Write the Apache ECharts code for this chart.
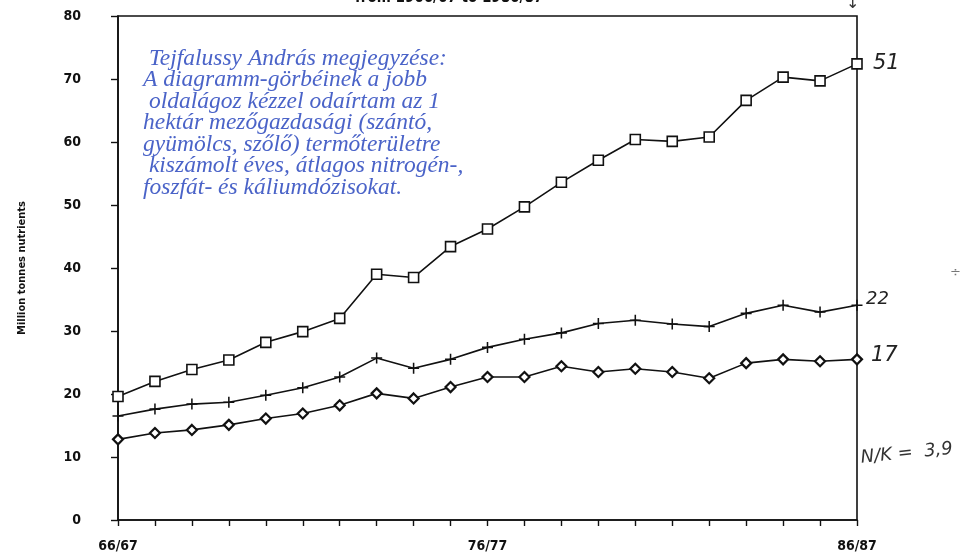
<!DOCTYPE html>
<html>
<head>
<meta charset="utf-8">
<script src="https://cdn.jsdelivr.net/npm/echarts@6/dist/echarts.min.js"></script>
<style>
html,body{margin:0;padding:0;background:#fff;}
#c{width:977px;height:557px;}
</style>
</head>
<body>
<div id="c"></div>
<script>
var categories = ['66/67','67/68','68/69','69/70','70/71','71/72','72/73','73/74','74/75','75/76','76/77','77/78','78/79','79/80','80/81','81/82','82/83','83/84','84/85','85/86','86/87'];
var shownLabels = ['66/67','76/77','86/87'];
var totalNutrients = [19.6,22.0,23.9,25.4,28.2,29.9,32.0,39.0,38.5,43.4,46.2,49.7,53.6,57.1,60.4,60.1,60.8,66.6,70.3,69.7,72.4];
var plusSeries = [16.5,17.6,18.4,18.7,19.8,21.0,22.7,25.7,24.1,25.5,27.4,28.7,29.7,31.2,31.7,31.1,30.7,32.8,34.1,33.0,34.1];
var diamondSeries = [12.8,13.8,14.3,15.1,16.1,16.9,18.2,20.1,19.3,21.1,22.7,22.7,24.4,23.5,24.0,23.5,22.5,24.9,25.5,25.2,25.5];
var yTicks = {min:0, max:80, interval:10};
var noteLines = [
  ' Tejfalussy András megjegyzése:',
  'A diagramm-görbéinek a jobb',
  ' oldalágoz kézzel odaírtam az 1',
  'hektár mezőgazdasági (szántó,',
  'gyümölcs, szőlő) termőterületre',
  ' kiszámolt éves, átlagos nitrogén-,',
  'foszfát- és káliumdózisokat.'
];

var axisFont = "'Liberation Sans Narrow','DejaVu Sans Condensed','Liberation Sans',sans-serif";
var handFont = "'DejaVu Sans','Liberation Sans',sans-serif";
var chart = echarts.init(document.getElementById('c'), null, {renderer:'canvas'});
var plusPath = 'path://M4.3,0H5.7V4.3H10V5.7H5.7V10H4.3V5.7H0V4.3H4.3Z';

chart.setOption({
  backgroundColor:'#fff',
  animation:false,
  grid:{left:118, right:120, top:16, bottom:37, show:true, borderColor:'#111', borderWidth:1.6, backgroundColor:'transparent'},
  xAxis:{
    type:'category', data:categories, boundaryGap:false,
    axisLine:{lineStyle:{color:'#111', width:1.6}},
    axisTick:{show:true, inside:false, length:6, lineStyle:{color:'#111', width:1.4}, alignWithLabel:true, interval:0},
    axisLabel:{
      interval:0, margin:19,
      color:'#111', fontFamily:axisFont, fontWeight:'bold', fontSize:14,
      formatter:function(v){ return shownLabels.indexOf(v)>=0 ? v : ''; }
    },
    splitLine:{show:false}
  },
  yAxis:{
    type:'value', min:yTicks.min, max:yTicks.max, interval:yTicks.interval,
    name:'Million tonnes nutrients', nameLocation:'middle', nameGap:90, nameRotate:90,
    nameTextStyle:{color:'#111', fontFamily:axisFont, fontWeight:'bold', fontSize:11},
    axisLine:{show:true, lineStyle:{color:'#111', width:1.6}},
    axisTick:{show:true, length:7, lineStyle:{color:'#111', width:1.4}},
    axisLabel:{margin:37, color:'#111', fontFamily:axisFont, fontWeight:'bold', fontSize:14},
    splitLine:{show:false}
  },
  series:[
    {type:'line', data:totalNutrients, symbol:'rect', symbolSize:10,
     lineStyle:{color:'#111', width:1.6}, itemStyle:{color:'#fff', borderColor:'#111', borderWidth:1.6}, z:3},
    {type:'line', data:plusSeries, symbol:plusPath, symbolSize:11,
     lineStyle:{color:'#111', width:1.6}, itemStyle:{color:'#111', borderWidth:0}, z:3},
    {type:'line', data:diamondSeries, symbol:'diamond', symbolSize:10,
     lineStyle:{color:'#111', width:1.6}, itemStyle:{color:'#fff', borderColor:'#111', borderWidth:2.2}, z:3}
  ],
  graphic:[
    {type:'text', left:355, top:-9, style:{text:'from 1966/67 to 1986/87', fill:'#111', font:"bold 15px "+axisFont}},
    {type:'text', left:846, top:-4, style:{text:'↓', fill:'#333', font:"16px "+handFont}},
    {type:'text', left:143, top:47, style:{text:noteLines.join('\n'), fill:'#4a63c8', font:"italic 23.5px 'Liberation Serif','DejaVu Serif',serif", lineHeight:21.5}},
    {type:'text', left:873, top:53, style:{text:'51', fill:'#222', font:"italic 21px "+handFont}},
    {type:'text', left:866, top:290, style:{text:'22', fill:'#222', font:"italic 18px "+handFont}},
    {type:'text', left:871, top:345, style:{text:'17', fill:'#222', font:"italic 21px "+handFont}},
    {type:'text', left:860, top:440, rotation:0.1, style:{text:'N/K =  3,9', fill:'#333', font:"italic 18px "+handFont}},
    {type:'text', left:950, top:266, style:{text:'÷', fill:'#777', font:"13px "+handFont}}
  ]
});
</script>
</body>
</html>
